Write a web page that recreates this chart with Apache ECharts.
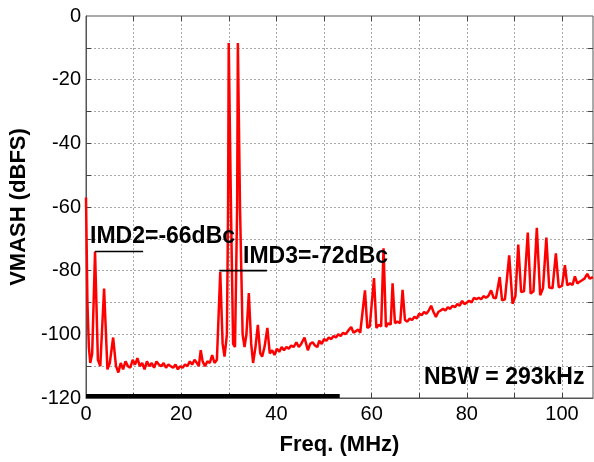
<!DOCTYPE html>
<html>
<head>
<meta charset="utf-8">
<script src="https://cdn.jsdelivr.net/npm/echarts@6/dist/echarts.min.js"></script>
<style>html,body{margin:0;padding:0;background:#fff}#c{width:594px;height:462px}</style>
</head>
<body>
<div id="c"></div>
<script>
// Spectrum trace: frequency (MHz) and level (dBFS)
const freq = [0,0.3,0.6,0.9,1.3,1.9,2.5,3.0,3.8,4.5,5.0,5.7,6.3,6.8,7.3,7.8,8.3,8.8,9.3,9.8,10.3,10.8,11.3,11.8,12.3,12.8,13.3,13.8,14.3,14.8,15.3,15.8,16.3,16.8,17.3,17.8,18.3,18.8,19.3,19.8,20.3,20.8,21.3,21.8,22.3,22.8,23.3,23.7,24.1,24.5,25.0,25.5,26.0,26.5,27.0,27.5,27.8,28.2,28.7,29.1,29.6,29.85,29.98,30.32,30.45,30.9,31.3,31.75,31.9,32.22,32.35,32.9,33.3,33.7,34.2,34.7,35.1,35.6,36.1,36.6,37.0,37.5,38.1,38.6,39.1,39.6,40.1,40.6,41.1,41.6,42.1,42.6,43.1,43.6,44.2,44.7,45.2,45.9,46.6,47.1,47.6,48.1,48.6,49.0,49.5,50.0,50.5,51.0,51.5,52.0,52.5,53.0,53.5,54.0,54.5,55.0,55.7,56.2,56.7,57.2,57.6,58.0,58.6,59.1,59.6,60.0,60.5,61.0,61.5,62.0,62.5,63.0,63.5,64.0,64.4,64.9,65.4,66.0,66.5,67.0,67.5,68.0,68.5,69.0,69.5,70.0,70.5,71.0,71.5,72.0,72.5,73.0,73.5,74.0,74.5,75.0,75.5,76.0,76.5,77.0,77.5,78.0,78.5,79.0,79.5,80.0,80.5,81.0,81.5,82.0,82.5,83.0,83.5,84.0,84.5,85.1,85.6,86.1,86.9,87.4,88.0,88.9,89.6,90.2,90.8,91.4,92.0,92.8,93.4,94.0,94.7,95.4,96.0,96.7,97.3,98.0,98.7,99.3,100.0,100.6,101.1,101.7,102.2,102.7,103.2,103.7,104.2,104.7,105.3,105.8,106.5];
const level = [-57,-90,-104,-109,-106,-74,-108,-110,-85.6,-111,-109,-101,-110,-112,-109,-111,-108.5,-110,-110.5,-108,-109.5,-107.5,-110,-109,-111,-108.5,-110,-109,-110.5,-108.5,-109.5,-110,-109,-110.5,-109.5,-110,-110.5,-109.5,-111,-110,-110.5,-109.5,-110,-108.5,-109.5,-108,-109,-110,-105,-108.5,-110,-108.5,-109,-106.5,-109,-108,-108.5,-80.4,-103,-107,-100,-60,-8.5,-8.5,-60,-103,-104,-60,-8.5,-8.5,-60,-100,-104,-100,-87,-103,-109,-104,-97,-106,-107,-104,-98,-106,-105,-106.5,-104.5,-105.5,-104,-105,-104,-104.5,-103.5,-104,-102.5,-104,-103,-101,-105,-103,-102.5,-103.5,-104,-102,-103,-101.5,-102,-101,-101.5,-100.5,-101,-100,-100.5,-99.5,-100,-99,-97.7,-99.5,-99,-98.5,-99.5,-99,-86.2,-98,-97.5,-98,-82.3,-98,-97,-97.5,-73,-97.7,-96.5,-97,-84,-96.5,-96,-96.5,-86,-95.5,-96,-95,-95.5,-94.5,-95,-93.5,-94,-93,-93.5,-92.5,-91,-93,-94.5,-93,-92.5,-92,-92.5,-91.5,-92,-91,-91.5,-90.5,-91,-89.5,-90.5,-90,-89.5,-90,-88.5,-89,-88.5,-89,-88,-88.5,-88,-86.2,-88.5,-88.7,-82,-89.3,-89,-75.2,-90.4,-88,-71.8,-86.7,-86.5,-68,-87.2,-86.5,-66.5,-87.7,-85.5,-69.6,-85.3,-85.5,-74.6,-85.2,-84.8,-78.3,-84.6,-84,-84.5,-81.8,-84,-83.5,-83,-82.5,-81,-82.5,-82];
// Annotation marker lines
const imd2Line = [[1.9,-74],[12,-74]];
const imd3Line = [[28,-80],[38,-80]];
const bottomBar = [[0,-119.4],[53.3,-119.4]];
// Axis ticks / grid
const xGrid = [10,20,30,40,50,60,70,80,90,100];
const yGrid = [-110,-100,-90,-80,-70,-60,-50,-40,-30,-20,-10];
const xTicks = [0,20,40,60,80,100];
const yTicks = [0,-20,-40,-60,-80,-100,-120];
const X_MIN = 0, X_MAX = 106.5, Y_MIN = -120, Y_MAX = 0;

const FONT = '"Liberation Sans", Arial, Helvetica, sans-serif';
const chart = echarts.init(document.getElementById('c'), null, {renderer:'canvas'});

// tick length of ~5 px expressed in axis units (plot is ~507 px by ~382 px)
const tx = 5 * (X_MAX - X_MIN) / 507, ty = 5 * (Y_MAX - Y_MIN) / 382;
const gridStyle = {color:'#a8a8a8', type:[2,2], width:1};
const tickStyle = {color:'#444', type:'solid', width:1};
const markData = [];
xGrid.forEach(v => markData.push([{coord:[v,Y_MIN], lineStyle:gridStyle},{coord:[v,Y_MAX]}]));
yGrid.forEach(v => markData.push([{coord:[X_MIN,v], lineStyle:gridStyle},{coord:[X_MAX,v]}]));
xGrid.forEach(v => {
  markData.push([{coord:[v,Y_MIN], lineStyle:tickStyle},{coord:[v,Y_MIN+ty]}]);
  markData.push([{coord:[v,Y_MAX], lineStyle:tickStyle},{coord:[v,Y_MAX-ty]}]);
});
yGrid.forEach(v => {
  markData.push([{coord:[X_MIN,v], lineStyle:tickStyle},{coord:[X_MIN+tx,v]}]);
  markData.push([{coord:[X_MAX,v], lineStyle:tickStyle},{coord:[X_MAX-tx,v]}]);
});

chart.setOption({
  animation:false,
  backgroundColor:'#fff',
  grid:{left:86, right:1, top:16, bottom:64, show:true, borderColor:'#555', borderWidth:1, backgroundColor:'transparent'},
  xAxis:{type:'value', min:X_MIN, max:X_MAX, interval:10, position:'bottom',
     axisLine:{show:true, onZero:false, lineStyle:{color:'#555', width:1}},
     axisTick:{show:false},
     splitLine:{show:false},
     axisLabel:{show:true, margin:6, color:'#000', fontSize:20, fontFamily:FONT, showMaxLabel:false,
       formatter:v => xTicks.includes(v) ? String(v) : ''},
     name:'Freq. (MHz)', nameLocation:'middle', nameGap:36,
     nameTextStyle:{color:'#000', fontSize:22, fontWeight:'bold', fontFamily:FONT}},
  yAxis:{type:'value', min:Y_MIN, max:Y_MAX, interval:10, position:'left',
     axisLine:{show:true, onZero:false, lineStyle:{color:'#555', width:1}},
     axisTick:{show:false},
     splitLine:{show:false},
     axisLabel:{show:true, margin:5, color:'#000', fontSize:20, fontFamily:FONT,
       formatter:v => yTicks.includes(v) ? String(v) : ''},
     name:'VMASH (dBFS)', nameLocation:'middle', nameGap:47, nameRotate:90,
     nameTextStyle:{color:'#000', fontSize:22, fontWeight:'bold', fontFamily:FONT}},
  series:[
    {type:'line', data:[[X_MIN,Y_MIN]], symbol:'none', showSymbol:false, lineStyle:{opacity:0}, z:1, silent:true,
     markLine:{silent:true, symbol:['none','none'], label:{show:false}, animation:false, data:markData}},
    {type:'line', data:freq.map((f,i)=>[f,level[i]]), showSymbol:false, symbol:'none',
     lineStyle:{color:'#ff0000', width:2.5}, z:10},
    {type:'line', data:imd2Line, symbol:'none', lineStyle:{color:'#000', width:1.6}, z:11},
    {type:'line', data:imd3Line, symbol:'none', lineStyle:{color:'#000', width:1.6}, z:11},
    {type:'line', data:bottomBar, symbol:'none', lineStyle:{color:'#000', width:4}, z:12}
  ],
  graphic:[
    {type:'text', left:90, top:225, z:20, style:{text:'IMD2=-66dBc', fill:'#000', font:'bold 23px ' + FONT}},
    {type:'text', left:243, top:245, z:20, style:{text:'IMD3=-72dBc', fill:'#000', font:'bold 23px ' + FONT}},
    {type:'text', left:424, top:366, z:20, style:{text:'NBW = 293kHz', fill:'#000', font:'bold 23px ' + FONT}}
  ]
});
</script>
</body>
</html>
